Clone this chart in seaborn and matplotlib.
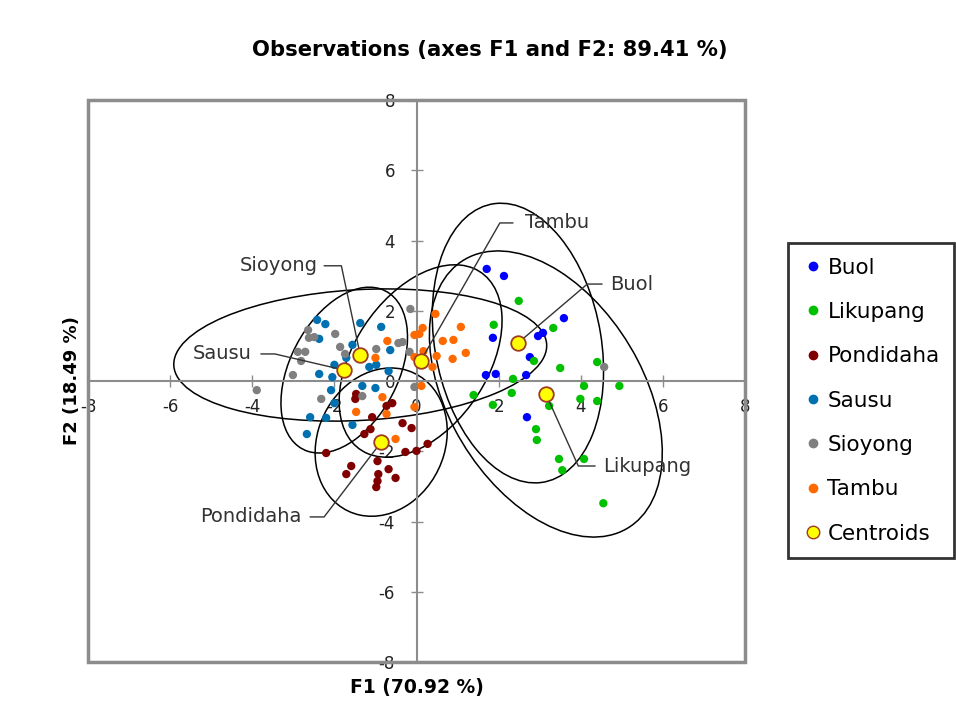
import numpy as np
import pandas as pd
import seaborn as sns
import matplotlib.pyplot as plt
from matplotlib.patches import Ellipse, Rectangle
from matplotlib.lines import Line2D

buol_x = [1.71, 2.13, 3.59, 1.86, 2.96, 3.08, 2.76, 1.69, 1.93, 2.67, 2.69]
buol_y = [3.19, 2.99, 1.79, 1.23, 1.28, 1.37, 0.68, 0.17, 0.20, 0.17, -1.03]

likupang_x = [2.49, 1.88, 3.33, 2.86, 3.50, 4.40, 2.35, 2.32, 1.39, 1.86, 4.08,
              4.94, 3.99, 4.40, 3.23, 2.91, 2.93, 3.47, 4.08, 3.55, 4.55]
likupang_y = [2.28, 1.60, 1.51, 0.57, 0.37, 0.54, 0.06, -0.34, -0.40, -0.68, -0.14,
              -0.14, -0.51, -0.57, -0.71, -1.37, -1.68, -2.22, -2.22, -2.54, -3.48]

pondidaha_x = [-1.47, -1.49, -0.73, -0.59, -1.08, -0.34, -0.12, -1.12, -1.27, -2.20, -0.27,
               0.00, 0.27, -0.95, -1.59, -1.71, -0.68, -0.93, -0.51, -0.95, -0.98]
pondidaha_y = [-0.37, -0.51, -0.71, -0.63, -1.03, -1.20, -1.34, -1.37, -1.51, -2.05, -2.02,
               -1.99, -1.79, -2.28, -2.42, -2.65, -2.51, -2.65, -2.76, -2.85, -3.02]

sausu_x = [-2.42, -2.22, -2.37, -1.37, -0.86, -1.56, -0.64, -1.15, -0.98, -1.71, -2.00,
           -2.37, -2.05, -0.68, -1.32, -1.00, -2.08, -2.00, -2.59, -2.20, -1.56, -2.67]
sausu_y = [1.74, 1.62, 1.20, 1.65, 1.54, 1.03, 0.88, 0.40, 0.46, 0.66, 0.46,
           0.20, 0.11, 0.28, -0.14, -0.20, -0.26, -0.63, -1.03, -1.05, -1.25, -1.51]

sioyong_x = [-3.89, -2.64, -2.49, -2.62, -1.98, -2.89, -2.71, -2.81, -3.01, -1.86,
             -1.74, -0.98, -0.44, -0.34, -0.17, -0.15, -0.05, -1.32, -2.32, 4.57]
sioyong_y = [-0.26, 1.45, 1.25, 1.23, 1.34, 0.83, 0.83, 0.57, 0.17, 0.97,
             0.77, 0.91, 1.08, 1.11, 0.83, 2.05, -0.17, -0.43, -0.51, 0.40]

tambu_x = [0.46, 1.08, 0.15, -0.05, 0.07, 0.64, 0.90, -0.71, 0.17, 0.49, 1.20,
           0.88, -0.05, 0.39, -1.00, 0.12, -0.83, -1.47, -0.73, -0.51, -0.05]
tambu_y = [1.91, 1.54, 1.51, 1.31, 1.34, 1.14, 1.17, 1.14, 0.85, 0.71, 0.80,
           0.63, 0.68, 0.40, 0.66, -0.14, -0.46, -0.88, -0.94, -1.65, -0.74]

groups = ["Buol", "Likupang", "Pondidaha", "Sausu", "Sioyong", "Tambu"]
centroid_x = [2.47, 3.15, -0.86, -1.76, -1.37, 0.10]
centroid_y = [1.08, -0.37, -1.74, 0.31, 0.74, 0.57]

# confidence ellipses: width, height, angle (deg)
ell_w = [8.02, 8.65, 4.28, 4.95, 9.1, 5.87]
ell_h = [4.06, 4.87, 3.14, 2.7, 3.72, 3.36]
ell_a = [98, 114, 76, 69, 4, 64]

# label text anchor, elbow of leader line
lab_x = [4.72, 4.55, -2.79, -4.01, -2.40, 2.64]
lab_y = [2.76, -2.42, -3.87, 0.77, 3.28, 4.50]
elb_x0 = [4.52, 4.35, -2.59, -3.79, -2.25, 2.35]
elb_x1 = [4.16, 3.94, -2.25, -3.45, -1.83, 2.03]

colors = {"Buol": "#0000FF", "Likupang": "#00C000", "Pondidaha": "#800000",
          "Sausu": "#0070B0", "Sioyong": "#7F7F7F", "Tambu": "#FF6A00"}

xs = [buol_x, likupang_x, pondidaha_x, sausu_x, sioyong_x, tambu_x]
ys = [buol_y, likupang_y, pondidaha_y, sausu_y, sioyong_y, tambu_y]
df = pd.concat([pd.DataFrame({"F1": x, "F2": y, "group": g}) for g, x, y in zip(groups, xs, ys)])

sns.set_style("white")
plt.rcParams['font.family'] = ['DejaVu Sans']
plt.rcParams['axes.unicode_minus'] = False
plt.rcParams['text.color'] = 'black'

fig = plt.figure(figsize=(9.56, 7.24), dpi=100)
ax = fig.add_axes([88 / 956, 1 - 662 / 724, (745 - 88) / 956, (662 - 100) / 724])

for i, g in enumerate(groups):
    ax.add_patch(Ellipse((centroid_x[i], centroid_y[i]), ell_w[i], ell_h[i], angle=ell_a[i],
                         fill=False, edgecolor="black", lw=1.1, zorder=2))

sns.scatterplot(data=df, x="F1", y="F2", hue="group", palette=colors, s=36,
                edgecolor="none", legend=False, ax=ax, zorder=3)
ax.scatter(centroid_x, centroid_y, s=110, color="#FFFF00", edgecolor="#A03A20", lw=1.3, zorder=5)

for i, g in enumerate(groups):
    if lab_x[i] > elb_x0[i]:
        ha = "left"
    else:
        ha = "right"
    ax.plot([elb_x0[i], elb_x1[i], centroid_x[i]], [lab_y[i], lab_y[i], centroid_y[i]],
            color="#333333", lw=1.0, zorder=4)
    ax.text(lab_x[i], lab_y[i], g, ha=ha, va="center", fontsize=14, color="#333333")

ax.set_xlim(-8, 8)
ax.set_ylim(-8, 8)
ax.set_xticks(range(-8, 9, 2))
ax.set_yticks(range(-8, 9, 2))
ax.set_xlabel("")
ax.set_ylabel("")
for side in ["left", "bottom"]:
    ax.spines[side].set_position(("data", 0))
    ax.spines[side].set_color("#8C8C8C")
    ax.spines[side].set_linewidth(1.5)
ax.spines["top"].set_visible(False)
ax.spines["right"].set_visible(False)
ax.tick_params(axis="both", direction="inout", length=9, width=1, color="#8C8C8C",
               labelsize=12, labelcolor="#222222", bottom=True, left=True)
ax.tick_params(axis="x", pad=8)
ax.tick_params(axis="y", pad=11)
ax.add_patch(Rectangle((0, 0), 1, 1, transform=ax.transAxes, fill=False,
                       edgecolor="#8C8C8C", lw=2.5, clip_on=False, zorder=1))

ax.text(0.5, -0.045, "F1 (70.92 %)", transform=ax.transAxes, ha="center", va="center",
        fontsize=13.5, fontweight="bold")
ax.text(-0.025, 0.5, "F2 (18.49 %)", transform=ax.transAxes, ha="center", va="center",
        rotation=90, fontsize=13, fontweight="bold")
fig.text(490 / 956, 1 - 50 / 724, "Observations (axes F1 and F2: 89.41 %)", ha="center",
         va="center", fontsize=15.2, fontweight="bold")

handles = [Line2D([], [], ls="", marker="o", ms=6, color=colors[g]) for g in groups]
handles.append(Line2D([], [], ls="", marker="o", ms=9, markerfacecolor="#FFFF00",
                      markeredgecolor="#A03A20"))
leg = fig.legend(handles, groups + ["Centroids"], loc="upper left",
                 bbox_to_anchor=(788 / 956, 1 - 243 / 724), borderaxespad=0, fontsize=15.5,
                 frameon=True, fancybox=False, edgecolor="black", labelspacing=1.13,
                 handletextpad=0.15, handlelength=1.0, borderpad=0.68)
leg.get_frame().set_linewidth(2)

fig.savefig("out.png", dpi=100)
